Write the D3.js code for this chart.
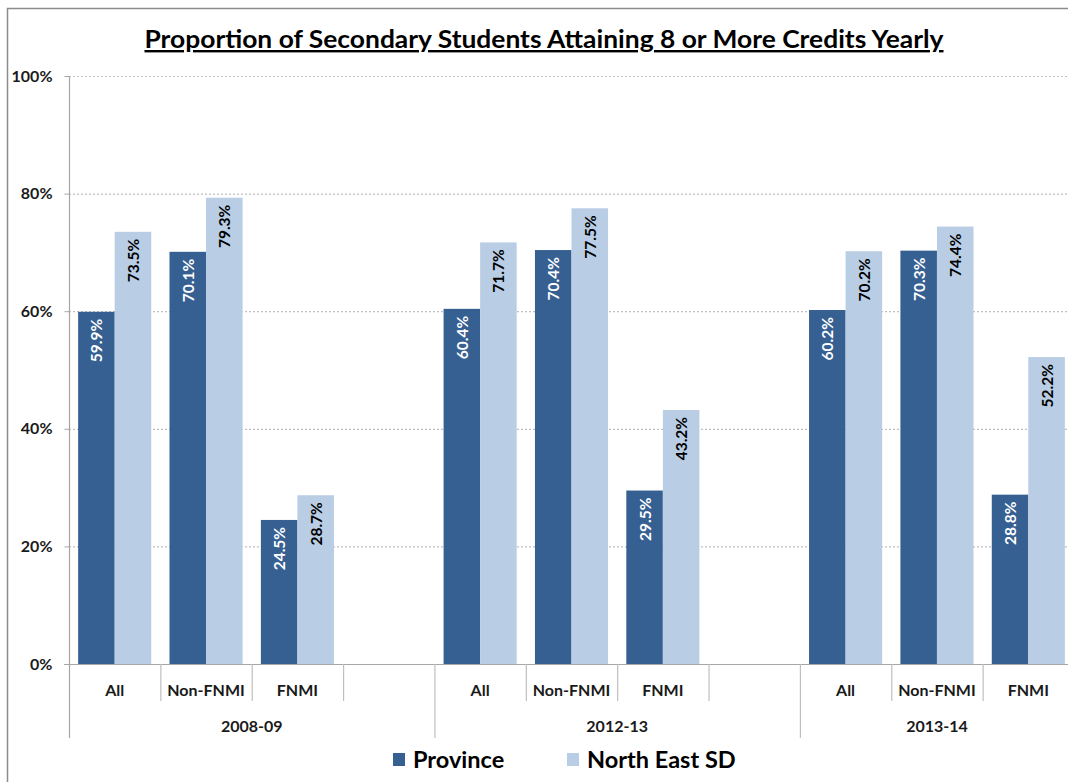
<!DOCTYPE html>
<html><head><meta charset="utf-8">
<script src="https://cdn.jsdelivr.net/npm/d3@7/dist/d3.min.js"></script>
<style>
body{margin:0;background:#fff;}
svg{display:block;font-family:Lato,"Open Sans",sans-serif;font-weight:bold;}
</style></head>
<body><svg id="c" width="1068" height="782"></svg>
<script>
const title = "Proportion of Secondary Students Attaining 8 or More Credits Yearly";
const years = ["2008-09", "2012-13", "2013-14"];
const subcats = [["All", "Non-FNMI", "FNMI", ""], ["All", "Non-FNMI", "FNMI", ""], ["All", "Non-FNMI", "FNMI"]];
const seriesNames = ["Province", "North East SD"];
const province = [[59.9, 70.1, 24.5], [60.4, 70.4, 29.5], [60.2, 70.3, 28.8]];
const northEast = [[73.5, 79.3, 28.7], [71.7, 77.5, 43.2], [70.2, 74.4, 52.2]];
const yTicks = [0, 20, 40, 60, 80, 100];
const colors = ["#376092", "#B9CDE5"];
const labelColors = ["#ffffff", "#000000"];

(function () {
const svg = d3.select("#c");
const W = 1068;
const pLeft = 69, pRight = 1074, pTop = 76, pBottom = 664;

svg.append("rect").attr("x", 7.5).attr("y", 8.5).attr("width", 1100).attr("height", 800)
  .attr("fill", "none").attr("stroke", "#8c8c8c").attr("stroke-width", 1.5);

const slots = [];
subcats.forEach((cats, gi) => cats.forEach((c, ci) => slots.push({g: gi, c: ci, name: c, id: gi + "_" + ci})));
const x = d3.scaleBand().domain(slots.map(s => s.id)).range([pLeft, pRight]).padding(0);
const bw = x.bandwidth();
const x1 = d3.scaleBand().domain(seriesNames).range([bw * 0.1, bw * 0.9]).padding(0);
const y = d3.scaleLinear().domain([0, 100]).range([pBottom, pTop]);

svg.append("g").selectAll("line").data(yTicks.filter(t => t > 0)).join("line")
  .attr("x1", pLeft).attr("x2", W).attr("y1", d => y(d) + 0.5).attr("y2", d => y(d) + 0.5)
  .attr("stroke", "#bfbfbf").attr("stroke-width", 1.2).attr("stroke-dasharray", "2,2");

const yAxis = d3.axisLeft(y).tickValues(yTicks).tickFormat(d => d + "%").tickSize(5).tickPadding(12);
const ya = svg.append("g").attr("transform", `translate(${pLeft + 0.5},0)`).call(yAxis);
ya.select(".domain").remove();
ya.selectAll(".tick line").attr("stroke", "#a6a6a6");
ya.selectAll(".tick text").attr("font-size", 16).attr("font-weight", "bold").attr("fill", "#1a1a1a")
  .attr("font-family", "Lato, sans-serif");
svg.append("line").attr("x1", pLeft + 0.5).attr("x2", pLeft + 0.5).attr("y1", pTop).attr("y2", 738)
  .attr("stroke", "#a6a6a6").attr("stroke-width", 1.2);

const barData = [];
slots.forEach(s => {
  if (s.name === "") return;
  [province, northEast].forEach((arr, si) => {
    barData.push({slot: s.id, series: seriesNames[si], si, v: arr[s.g][s.c]});
  });
});
const bars = svg.append("g");
bars.selectAll("rect").data(barData).join("rect")
  .attr("x", d => x(d.slot) + x1(d.series))
  .attr("width", x1.bandwidth())
  .attr("y", d => y(d.v))
  .attr("height", d => y(0) - y(d.v))
  .attr("fill", d => colors[d.si]);

bars.selectAll("text").data(barData).join("text")
  .attr("transform", d => `translate(${x(d.slot) + x1(d.series) + x1.bandwidth() / 2},${y(d.v) + 7}) rotate(-90)`)
  .attr("text-anchor", "end").attr("dominant-baseline", "central")
  .attr("font-size", 15.5).attr("fill", d => labelColors[d.si])
  .text(d => d.v.toFixed(1) + "%");

svg.append("line").attr("x1", pLeft - 5).attr("x2", W).attr("y1", pBottom + 0.5).attr("y2", pBottom + 0.5)
  .attr("stroke", "#a6a6a6").attr("stroke-width", 1.2);

slots.forEach((s, i) => {
  if (i === 0) return;
  const xx = x(s.id) + 0.5;
  const isGroup = s.c === 0;
  svg.append("line").attr("x1", xx).attr("x2", xx).attr("y1", pBottom).attr("y2", isGroup ? 738 : 701)
    .attr("stroke", "#bfbfbf").attr("stroke-width", 1.2);
});

svg.append("g").selectAll("text").data(slots.filter(s => s.name !== "")).join("text")
  .attr("x", d => x(d.id) + bw / 2).attr("y", 696).attr("text-anchor", "middle")
  .attr("font-size", 16).attr("fill", "#1a1a1a").text(d => d.name);

svg.append("g").selectAll("text").data(years).join("text")
  .attr("x", (d, gi) => {
    const ss = slots.filter(s => s.g === gi);
    return (x(ss[0].id) + x(ss[ss.length - 1].id) + bw) / 2;
  })
  .attr("y", 732).attr("text-anchor", "middle").attr("font-size", 16).attr("fill", "#1a1a1a").text(d => d);

svg.append("text").attr("x", 544).attr("y", 48).attr("text-anchor", "middle")
  .attr("font-size", 24).attr("fill", "#000").attr("text-decoration", "underline")
  .attr("textLength", 799).attr("lengthAdjust", "spacingAndGlyphs").text(title);

const legX = [393, 567];
const lg = svg.append("g");
seriesNames.forEach((n, i) => {
  lg.append("rect").attr("x", legX[i]).attr("y", 753).attr("width", 12).attr("height", 13).attr("fill", colors[i]);
  lg.append("text").attr("x", legX[i] + 20).attr("y", 768).attr("font-size", 23.5).attr("fill", "#000").text(n);
});
})();
</script></body></html>
